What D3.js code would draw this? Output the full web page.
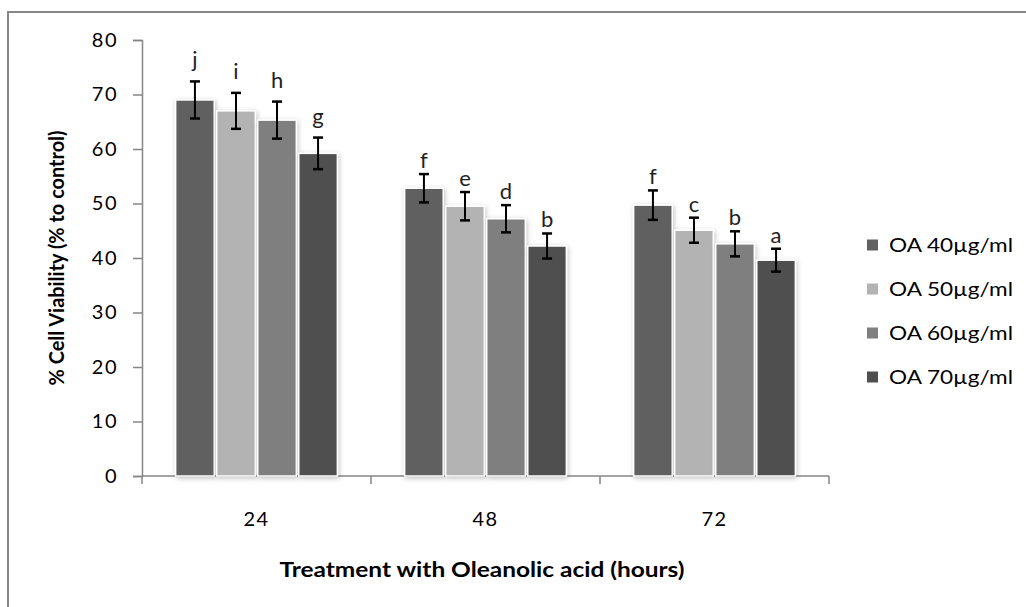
<!DOCTYPE html>
<head>
    <style>
        body { margin: 0; background: #fff; }
        text { font-family: Lato, "Open Sans", sans-serif; fill: #000; }
        .tick-label { font-size: 20px; letter-spacing: 1.5px; }
        .axis-title { font-size: 21px; font-weight: bold; }
        .legend text { font-size: 20px; }
        .sig { font-size: 22px; text-anchor: middle; fill: #222; }
    </style>
    <script src="https://d3js.org/d3.v7.min.js"></script>
</head>
<body>
    <svg width="1026" height="607"></svg>
    <script>
        // data
        var hours = ["24", "48", "72"];
        var series = ["OA 40\u00b5g/ml", "OA 50\u00b5g/ml", "OA 60\u00b5g/ml", "OA 70\u00b5g/ml"];
        var oa40 = [69.0, 52.8, 49.7];
        var oa50 = [67.0, 49.5, 45.1];
        var oa60 = [65.3, 47.2, 42.6];
        var oa70 = [59.2, 42.2, 39.6];
        var err40 = [3.4, 2.6, 2.7];
        var err50 = [3.3, 2.6, 2.3];
        var err60 = [3.4, 2.5, 2.3];
        var err70 = [2.9, 2.3, 2.1];
        var letters40 = ["j", "f", "f"];
        var letters50 = ["i", "e", "c"];
        var letters60 = ["h", "d", "b"];
        var letters70 = ["g", "b", "a"];
        var yTicks = [0, 10, 20, 30, 40, 50, 60, 70, 80];

        var values = [oa40, oa50, oa60, oa70];
        var errors = [err40, err50, err60, err70];
        var letters = [letters40, letters50, letters60, letters70];

        var svg = d3.select("svg");
        var axisColor = "#868686";

        // outer frame (only top and left edges are inside the picture)
        svg.append("rect")
           .attr("x", 8).attr("y", 12)
           .attr("width", 1200).attr("height", 800)
           .attr("fill", "none")
           .attr("stroke", axisColor)
           .attr("stroke-width", 2);

        var defs = svg.append("defs");
        var f = defs.append("filter").attr("id", "shadow")
                    .attr("x", "-20%").attr("y", "-5%")
                    .attr("width", "140%").attr("height", "110%");
        f.append("feDropShadow")
         .attr("dx", 1).attr("dy", 1.5)
         .attr("stdDeviation", 2.5)
         .attr("flood-color", "#000")
         .attr("flood-opacity", 0.25);

        var x = d3.scaleBand().domain(hours).range([142, 829]);
        var xSub = d3.scaleBand().domain(d3.range(series.length))
                     .range([0, x.bandwidth()])
                     .paddingInner(0.06).paddingOuter(0.82);
        var y = d3.scaleLinear().domain([0, 80]).range([476, 40]);
        var color = d3.scaleOrdinal().domain(d3.range(series.length))
                      .range(["#616161", "#b3b3b3", "#7f7f7f", "#4f4f4f"]);

        // y axis
        var yAxis = svg.append("g")
           .attr("transform", "translate(142,0)")
           .call(d3.axisLeft(y).tickValues(yTicks).tickSize(9).tickPadding(15));
        yAxis.select(".domain").attr("stroke", axisColor).attr("stroke-width", 1.5);
        yAxis.selectAll(".tick line").attr("stroke", axisColor).attr("stroke-width", 1.5);
        yAxis.selectAll(".tick text").attr("class", "tick-label")
             .attr("font-family", null).attr("font-size", null).attr("fill", "#000");
        yAxis.attr("font-family", null).attr("font-size", null);

        // x axis, ticks at the category boundaries
        var xg = svg.append("g");
        xg.append("line")
          .attr("x1", x.range()[0]).attr("x2", x.range()[1])
          .attr("y1", y(0)).attr("y2", y(0))
          .attr("stroke", axisColor).attr("stroke-width", 1.5);
        var bounds = hours.map(function(h) { return x(h); }).concat([x.range()[1]]);
        xg.selectAll(".xt").data(bounds).enter().append("line")
          .attr("x1", function(d) { return d; }).attr("x2", function(d) { return d; })
          .attr("y1", y(0)).attr("y2", y(0) + 8)
          .attr("stroke", axisColor).attr("stroke-width", 1.5);
        xg.selectAll(".xl").data(hours).enter().append("text")
          .attr("class", "tick-label")
          .attr("x", function(d) { return x(d) + x.bandwidth() / 2; })
          .attr("y", 526)
          .attr("text-anchor", "middle")
          .text(function(d) { return d; });

        // bars
        var rows = [];
        series.forEach(function(s, i) {
            hours.forEach(function(h, j) {
                rows.push({ s: i, h: h, v: values[i][j], e: errors[i][j], l: letters[i][j] });
            });
        });

        svg.append("g").selectAll("rect").data(rows).enter().append("rect")
           .attr("x", function(d) { return x(d.h) + xSub(d.s); })
           .attr("y", function(d) { return y(d.v); })
           .attr("width", xSub.bandwidth())
           .attr("height", function(d) { return y(0) - y(d.v); })
           .attr("fill", function(d) { return color(d.s); })
           .attr("stroke", "#fff")
           .attr("stroke-width", 1.5)
           .attr("filter", "url(#shadow)");

        // error bars
        var eb = svg.append("g").attr("stroke", "#000").attr("stroke-width", 2);
        rows.forEach(function(d) {
            var cx = x(d.h) + xSub(d.s) + xSub.bandwidth() / 2;
            eb.append("line").attr("x1", cx).attr("x2", cx)
              .attr("y1", y(d.v + d.e)).attr("y2", y(d.v - d.e));
            [d.v + d.e, d.v - d.e].forEach(function(v) {
                eb.append("line").attr("x1", cx - 5).attr("x2", cx + 5)
                  .attr("y1", y(v)).attr("y2", y(v))
                  .attr("stroke-width", 2.5);
            });
        });

        // significance letters (the first group sits a bit higher)
        svg.append("g").selectAll("text").data(rows).enter().append("text")
           .attr("class", "sig")
           .attr("x", function(d) { return x(d.h) + xSub(d.s) + xSub.bandwidth() / 2; })
           .attr("y", function(d) { return y(d.v + d.e) - (d.h === hours[0] ? 14 : 6); })
           .text(function(d) { return d.l; });

        // axis titles
        svg.append("text")
           .attr("class", "axis-title")
           .attr("transform", "translate(64," + y(40) + ") rotate(-90)")
           .attr("text-anchor", "middle")
           .attr("textLength", 255)
           .attr("lengthAdjust", "spacingAndGlyphs")
           .text("% Cell Viability (% to control)");

        svg.append("text")
           .attr("class", "axis-title")
           .attr("x", 482).attr("y", 577)
           .attr("text-anchor", "middle")
           .attr("textLength", 405)
           .attr("lengthAdjust", "spacingAndGlyphs")
           .text("Treatment with Oleanolic acid (hours)");

        // legend
        var legend = svg.append("g").attr("class", "legend")
                        .attr("transform", "translate(867,245)");
        var item = legend.selectAll("g").data(series).enter().append("g")
                         .attr("transform", function(d, i) { return "translate(0," + (i * 44) + ")"; });
        item.append("rect")
            .attr("x", 0).attr("y", -5.5)
            .attr("width", 11).attr("height", 11)
            .attr("fill", function(d, i) { return color(i); });
        item.append("text")
            .attr("x", 22).attr("y", 7)
            .attr("textLength", 124)
            .attr("lengthAdjust", "spacingAndGlyphs")
            .text(function(d) { return d; });
    </script>
</body>
</html>
